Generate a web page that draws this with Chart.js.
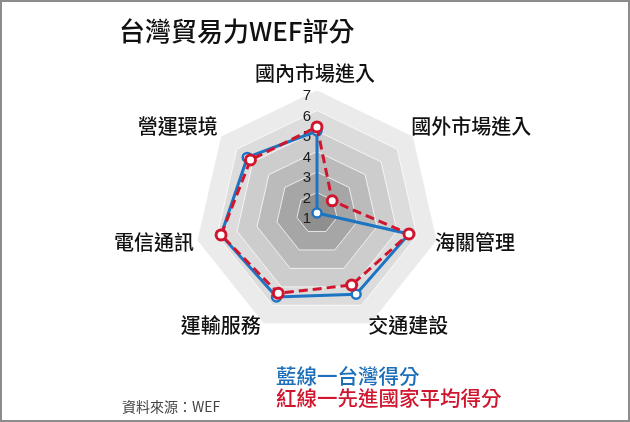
<!DOCTYPE html>
<html>
<head>
<meta charset="utf-8">
<script src="https://cdn.jsdelivr.net/npm/chart.js@4.4.0/dist/chart.umd.min.js"></script>
<style>
  html, body { margin: 0; padding: 0; background: #fff; }
  #wrap { position: relative; width: 630px; height: 422px; overflow: hidden;
          font-family: "Noto Sans CJK TC", "Noto Sans", sans-serif; }
  #frame { position: absolute; left: 0; top: 0; width: 630px; height: 422px;
           box-sizing: border-box; border: 2px solid #8c8c8c; pointer-events: none; }
  #chart { position: absolute; left: 0; top: 0; }
  .txt { position: absolute; line-height: 1; white-space: nowrap; }
  #title { left: 119px; top: 17px; font-size: 26px; font-weight: 500; color: #111; }
  #source { left: 122px; top: 399px; font-size: 14px; color: #444; }
  #lgBlue { left: 276px; top: 365px; font-size: 20.5px; font-weight: 500; color: #1c6fb8; }
  #lgRed { left: 276px; top: 387px; font-size: 20.5px; font-weight: 500; color: #d0152e; }
</style>
</head>
<body>
<div id="wrap">
  <canvas id="chart" width="630" height="422"></canvas>
  <div id="title" class="txt">台灣貿易力WEF評分</div>
  <div id="lgBlue" class="txt">藍線一台灣得分</div>
  <div id="lgRed" class="txt">紅線一先進國家平均得分</div>
  <div id="source" class="txt">資料來源：WEF</div>
  <div id="frame"></div>
</div>
<script>
var categories = ['國內市場進入', '國外市場進入', '海關管理', '交通建設', '運輸服務', '電信通訊', '營運環境'];
var taiwanScores = [5.0, 1.0, 5.6, 5.4, 5.55, 5.8, 5.35];
var advancedScores = [5.2, 1.95, 5.6, 4.9, 5.35, 5.8, 5.15];
var tickLabels = ['1', '2', '3', '4', '5', '6', '7'];
var seriesNames = ['台灣得分', '先進國家平均得分'];

// inner -> outer shades of the rings
var bandColors = ['#8f8f8f', '#a6a6a6', '#bbbbbb', '#cdcdcd', '#dcdcdc', '#ebebeb'];

function ringPath(ctx, scale, value){
    var d = scale.getDistanceFromCenterForValue(value);
    ctx.beginPath();
    for (var i = 0; i < categories.length; i++) {
        var p = scale.getPointPosition(i, d);
        if (i === 0) ctx.moveTo(p.x, p.y); else ctx.lineTo(p.x, p.y);
    }
    ctx.closePath();
}

var radarDeco = {
    id: 'radarDeco',
    beforeDraw: function(chart){
        var s = chart.scales.r, ctx = chart.ctx;
        ctx.save();
        for (var k = tickLabels.length - 1; k >= 1; k--) {
            ringPath(ctx, s, +tickLabels[k]);
            ctx.fillStyle = bandColors[k - 1];
            ctx.fill();
        }
        ctx.restore();
    },
    beforeDatasetsDraw: function(chart){
        var s = chart.scales.r, ctx = chart.ctx;
        ctx.save();
        ctx.font = '15px "Liberation Sans", Arial, sans-serif';
        ctx.fillStyle = '#1a1a1a';
        ctx.textAlign = 'right';
        ctx.textBaseline = 'middle';
        tickLabels.forEach(function(t){
            var y = s.yCenter - s.getDistanceFromCenterForValue(+t);
            ctx.fillText(t, s.xCenter - 6, y + 6);
        });
        ctx.restore();
    },
    afterDraw: function(chart){
        var s = chart.scales.r, ctx = chart.ctx;
        ctx.save();
        ctx.font = '500 20px "Noto Sans CJK TC", sans-serif';
        ctx.fillStyle = '#111';
        categories.forEach(function(c, i){
            var deg = Math.round(s.getIndexAngle(i) * 180 / Math.PI) % 360;
            var pad = deg === 0 ? 7 : 0;
            var p = s.getPointPosition(i, s.drawingArea + pad);
            ctx.textAlign = (deg === 0 || deg === 180) ? 'center' : (deg < 180 ? 'left' : 'right');
            ctx.textBaseline = (deg > 90 && deg < 270) ? 'middle' : 'bottom';
            var x = deg === 0 ? p.x - 2 : (deg > 180 ? p.x - 3 : p.x - 2);
            var y = (deg > 90 && deg < 270) ? p.y + 2 : p.y;
            ctx.fillText(c, x, y);
        });
        ctx.restore();
    }
};

var context = document.getElementById('chart');
var chart = new Chart(context, {
    type: 'radar',
    data: {
        labels: categories,
        datasets: [{
            label: seriesNames[1],
            data: advancedScores,
            borderColor: '#d0162e',
            borderWidth: 3,
            borderDash: [9, 5],
            pointRadius: 5,
            pointBorderWidth: 3,
            pointBackgroundColor: '#fff',
            pointBorderColor: '#d0162e',
            fill: false,
            order: 1
        }, {
            label: seriesNames[0],
            data: taiwanScores,
            borderColor: '#1c74c2',
            borderWidth: 3,
            pointRadius: 4.5,
            pointBorderWidth: 2.5,
            pointBackgroundColor: '#fff',
            pointBorderColor: '#1c74c2',
            fill: false,
            order: 2
        }]
    },
    options: {
        responsive: false,
        animation: false,
        devicePixelRatio: 1,
        layout: { padding: { top: 90, bottom: 86, left: 167, right: 163 } },
        plugins: { legend: { display: false }, tooltip: { enabled: false } },
        elements: { line: { tension: 0 } },
        scales: {
            r: {
                min: +tickLabels[0],
                max: +tickLabels[tickLabels.length - 1],
                ticks: { stepSize: 1, display: false },
                grid: { color: 'rgba(255,255,255,0.75)', lineWidth: 1 },
                angleLines: { display: false },
                pointLabels: { display: false }
            }
        }
    },
    plugins: [radarDeco]
});
</script>
</body>
</html>
